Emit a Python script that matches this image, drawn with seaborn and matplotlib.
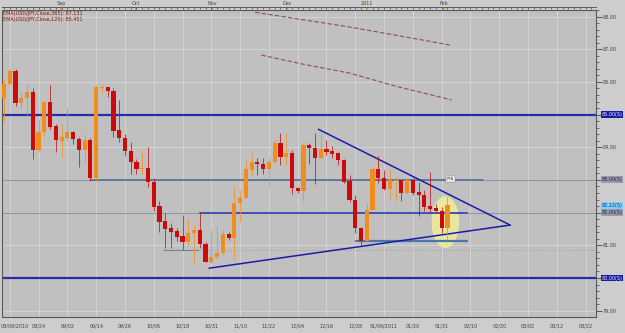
import numpy as np
import pandas as pd
import matplotlib
matplotlib.use("Agg")
import matplotlib.pyplot as plt
import matplotlib.transforms as mtransforms
from matplotlib.patches import Ellipse
import seaborn as sns

# ---------------- data ----------------
opens = [85.50, 85.95, 86.33, 85.36, 85.50, 85.68, 83.91, 84.47, 85.37, 84.65,
         84.20, 84.29, 84.46, 84.25, 83.91, 84.22, 83.05, 85.80, 85.83, 85.73,
         84.53, 84.29, 83.89, 83.56, 83.32, 83.37, 82.94, 82.20, 81.75, 81.52,
         81.44, 81.28, 81.09, 81.39, 81.47, 81.04, 80.48, 80.65, 80.76, 81.34,
         81.21, 82.28, 82.46, 83.30, 83.54, 83.48, 83.35, 83.56, 84.12, 83.71,
         83.82, 82.76, 82.67, 84.07, 83.97, 83.66, 83.94, 83.88, 83.81, 83.61,
         82.97, 82.39, 81.54, 81.13, 82.08, 83.35, 83.05, 82.72, 82.97, 83.00,
         82.59, 83.00, 82.62, 82.54, 82.20, 82.13, 82.05, 81.54]
highs = [86.06, 86.41, 86.41, 85.70, 85.95, 85.80, 84.88, 85.41, 85.92, 84.70,
         84.71, 85.24, 84.50, 84.32, 84.40, 84.27, 85.92, 85.95, 85.83, 85.80,
         85.44, 84.40, 84.15, 83.64, 83.89, 84.02, 83.05, 82.36, 82.00, 81.67,
         81.52, 81.93, 81.83, 81.62, 82.03, 81.09, 81.47, 81.60, 81.47, 81.42,
         82.82, 82.69, 83.61, 83.81, 83.66, 83.66, 83.66, 84.22, 84.43, 84.43,
         83.91, 82.79, 84.12, 84.12, 84.43, 84.43, 84.22, 84.05, 83.86, 83.64,
         83.15, 82.54, 81.57, 82.28, 83.40, 83.73, 83.30, 83.33, 83.10, 83.00,
         83.00, 83.05, 82.94, 82.69, 83.23, 82.25, 82.18, 82.49]
lows = [84.78, 85.90, 85.27, 85.19, 84.98, 83.63, 83.88, 84.32, 84.56, 83.86,
        83.71, 84.19, 84.09, 83.39, 83.54, 82.97, 82.94, 85.65, 85.54, 84.32,
        84.15, 83.74, 83.18, 83.18, 83.18, 82.79, 82.05, 81.42, 80.91, 80.91,
        81.14, 80.86, 80.99, 80.42, 80.91, 80.48, 80.45, 80.58, 80.70, 81.16,
        80.55, 81.72, 82.44, 83.13, 83.15, 83.17, 82.82, 83.51, 83.46, 83.46,
        82.56, 82.59, 82.36, 83.48, 82.87, 83.66, 83.76, 83.67, 83.46, 82.90,
        82.33, 81.37, 80.99, 81.11, 82.08, 82.90, 82.69, 82.44, 82.35, 82.36,
        82.56, 82.54, 81.91, 82.05, 82.03, 82.03, 81.37, 81.16]
closes = [85.95, 86.33, 85.36, 85.50, 85.68, 83.91, 84.46, 85.39, 84.63, 84.22,
          84.31, 84.46, 84.25, 83.91, 84.22, 83.05, 85.83, 85.85, 85.73, 84.50,
          84.29, 83.89, 83.54, 83.32, 83.37, 82.94, 82.18, 81.72, 81.49, 81.42,
          81.24, 81.09, 81.39, 81.47, 81.04, 80.50, 80.65, 80.76, 81.34, 81.21,
          82.28, 82.46, 83.32, 83.54, 83.48, 83.35, 83.56, 84.12, 83.71, 83.84,
          82.75, 82.66, 84.07, 83.97, 83.66, 83.94, 83.86, 83.79, 83.61, 82.94,
          82.39, 81.54, 81.13, 82.08, 83.35, 83.07, 82.72, 83.00, 83.00, 82.59,
          83.00, 82.59, 82.54, 82.18, 82.11, 82.05, 81.54, 82.22]

# bottom date ticks (candle index) and labels
date_tick_pos = [1, 6, 11, 16, 21, 26, 31, 36, 41, 46, 51, 56, 61, 66, 71, 76,
                 81, 86, 91, 96, 101]
date_labels = ["08/08/2010", "08/24", "09/02", "09/14", "09/26", "10/06", "10/18",
               "10/31", "11/10", "11/22", "12/04", "12/16", "12/28", "01/09/2011",
               "01/20", "01/31", "02/10", "02/20", "03/02", "03/12", "03/22"]
month_pos = [9.9, 22.9, 36.1, 49.1, 63.0, 76.4]
month_labels = ["Sep", "Oct", "Nov", "Dec", "2011", "Feb"]

# indicator lines
ema120_x = [44.7, 52.0, 60.0, 68.0, 77.7]
ema120_y = [86.82, 86.54, 86.27, 85.87, 85.45]
ema365_x = [43.6, 52.0, 60.0, 68.0, 77.4]
ema365_y = [88.13, 87.90, 87.68, 87.43, 87.13]

# drawn trend lines / levels
tri_upper_x = [54.6, 87.9]
tri_upper_y = [84.55, 81.62]
tri_lower_x = [35.6, 87.9]
tri_lower_y = [80.30, 81.62]
level_full = [85.00, 80.00]
level_faint = [83.00, 82.00]
seg_83 = ([14.9, 83.2], 83.00)
seg_82 = ([34.0, 80.4], 82.00)
seg_8113 = ([61.1, 80.4], 81.13)
seg_8086 = ([27.6, 33.7], 80.86)

# ---------------- style ----------------
sns.set_theme(style="white")
plt.rcParams['font.family'] = ['DejaVu Sans']

FIG_BG = "#cdcdcd"
AX_BG = "#c0c0c0"
GRID = "#d4d4d4"
ORANGE = "#f28c1c"
RED = "#cc0a0a"
BLUE = "#2a2aa8"
STEEL = "#4a6a9a"
FS = 3.5

fig = plt.figure(figsize=(6.25, 3.33), dpi=100)
fig.patch.set_facecolor(FIG_BG)
ax = fig.add_axes([2 / 625, 16 / 333, 594 / 625, 307 / 333])
ax.set_facecolor(AX_BG)

n = len(opens)
df = pd.DataFrame({"x": np.arange(n), "open": opens, "high": highs,
                   "low": lows, "close": closes})
df["up"] = df["close"] >= df["open"]
df["col"] = np.where(df["up"], ORANGE, RED)
df["bot"] = df[["open", "close"]].min(axis=1)
df["h"] = (df["close"] - df["open"]).abs().clip(lower=0.03)

xmin, xmax = -0.35, 102.8
ymin, ymax = 78.807, 88.196
ax.set_xlim(xmin, xmax)
ax.set_ylim(ymin, ymax)

# grid
for t in date_tick_pos:
    ax.axvline(t, color=GRID, lw=0.7, zorder=0.5)
for p in range(79, 89):
    ax.axhline(p, color=GRID, lw=0.7, zorder=0.5)

# ellipse highlight
ax.add_patch(Ellipse((76.65, 81.71), width=4.8, height=1.59,
                     facecolor="#ecec9c", edgecolor="none", alpha=0.9, zorder=1.2))

# levels
for lv in level_full:
    ax.axhline(lv, color=BLUE, lw=1.6, zorder=2)
for lv in level_faint:
    ax.axhline(lv, color="#8a94a8", lw=0.7, zorder=1.5)
ax.plot(seg_83[0], [seg_83[1]] * 2, color=STEEL, lw=1.1, zorder=2)
ax.plot(seg_82[0], [seg_82[1]] * 2, color="#3a4ab0", lw=1.3, zorder=2)
ax.plot(seg_8113[0], [seg_8113[1]] * 2, color="#4a78a8", lw=1.6, zorder=2)
ax.plot(seg_8086[0], [seg_8086[1]] * 2, color="#7a8090", lw=0.8, zorder=2)
ax.plot([seg_8086[0][1], xmax], [seg_8086[1]] * 2, color="#9a9a9a", lw=0.6,
        ls=(0, (1, 2)), zorder=1.5)

# triangle trend lines
ax.plot(tri_upper_x, tri_upper_y, color="#1c1ca8", lw=1.1, zorder=2.5)
ax.plot(tri_lower_x, tri_lower_y, color="#1c1ca8", lw=1.1, zorder=2.5)

# EMA lines
sns.lineplot(x=ema365_x, y=ema365_y, ax=ax, color="#8a5050", lw=0.8,
             linestyle=(0, (4, 2)), zorder=2)
sns.lineplot(x=ema120_x, y=ema120_y, ax=ax, color="#8a5050", lw=0.8,
             linestyle=(0, (4, 2)), zorder=2)

# candles
ax.vlines(df["x"], df["low"], df["high"], colors=df["col"], lw=0.7,
          alpha=0.75, zorder=3)
ax.bar(df["x"], df["h"], bottom=df["bot"], width=0.72, color=df["col"],
       edgecolor="none", zorder=3.5)

# PTA tag
ax.text(77.5, 83.02, "PTA", fontsize=2.8, color="#303030", ha="center",
        va="center", zorder=5,
        bbox=dict(boxstyle="square,pad=0.25", facecolor="#f4f4f4",
                  edgecolor="#808080", lw=0.3))

# axes styling
for s in ax.spines.values():
    s.set_color("#5a5a5a")
    s.set_linewidth(0.8)

ax.set_xticks(date_tick_pos)
ax.set_xticklabels(date_labels)
ax.set_xticks(np.arange(0, 103), minor=True)
ax.tick_params(axis="x", which="major", direction="out", length=3.5, width=0.6,
               color="#404040", labelsize=FS, labelcolor="#404050", pad=1.5)
ax.tick_params(axis="x", which="minor", direction="out", length=1.5, width=0.5,
               color="#404040")
first = ax.get_xticklabels()[0]
first.set_horizontalalignment("left")
first.set_transform(first.get_transform() +
                    mtransforms.ScaledTranslation(-8.8 / 100, 0, fig.dpi_scale_trans))

ax.yaxis.tick_right()
yt = list(range(79, 89))
ax.set_yticks(yt)
special = {85: "85.00(S)", 83: "83.00(S)", 82: "82.00(S)", 80: "80.00(S)"}
ax.set_yticklabels(["" if v in special else f"{v:.2f}" for v in yt])
ax.set_yticks(np.arange(79, 88.2, 0.2), minor=True)
ax.tick_params(axis="y", which="major", direction="out", length=4, width=0.6,
               color="#404040", labelsize=FS, labelcolor="#404050", pad=1)
ax.tick_params(axis="y", which="minor", direction="out", length=2, width=0.5,
               color="#404040")

trans = mtransforms.blended_transform_factory(ax.transAxes, ax.transData)
box_specs = [
    (85.00, "85.00(S)", "#1a1aa0", "#e8e8ff"),
    (83.00, "83.00(S)", "#9a9aaa", "#202040"),
    (82.22, "82.22(S)", "#7fd0f4", "#1030a0"),
    (82.00, "82.00(S)", "#9a9aaa", "#202040"),
    (80.00, "80.00(S)", "#1a1aa0", "#e8e8ff"),
]
for lv, txt, fc, tc in box_specs:
    ax.text(1.0095, lv, txt, transform=trans, fontsize=FS, color=tc,
            ha="left", va="center", clip_on=False, zorder=6,
            bbox=dict(boxstyle="square,pad=0.2", facecolor=fc, edgecolor="none"))

# top month strip
sec = ax.secondary_xaxis(1.0098)
sec.set_xticks(month_pos)
sec.set_xticklabels(month_labels)
sec.set_xticks(np.arange(0, 103), minor=True)
sec.tick_params(axis="x", which="major", direction="in", length=3, width=1.2,
                color=ORANGE, labelsize=FS, labelcolor="#404050", pad=0.5)
sec.tick_params(axis="x", which="minor", direction="in", length=1.5, width=0.5,
                color="#404040")
sec.spines["top"].set_color("#5a5a5a")
sec.spines["top"].set_linewidth(0.7)

# EMA legend
fig.text(3 / 625, 1 - 14 / 333, "EMA(USD/JPY,Close,365): 87.131", fontsize=FS,
         color="#8a1010", va="center", ha="left")
fig.text(3 / 625, 1 - 19.5 / 333, "EMA(USD/JPY,Close,120): 85.451", fontsize=FS,
         color="#8a1010", va="center", ha="left")

fig.savefig("out.png", dpi=100, facecolor=fig.get_facecolor())
